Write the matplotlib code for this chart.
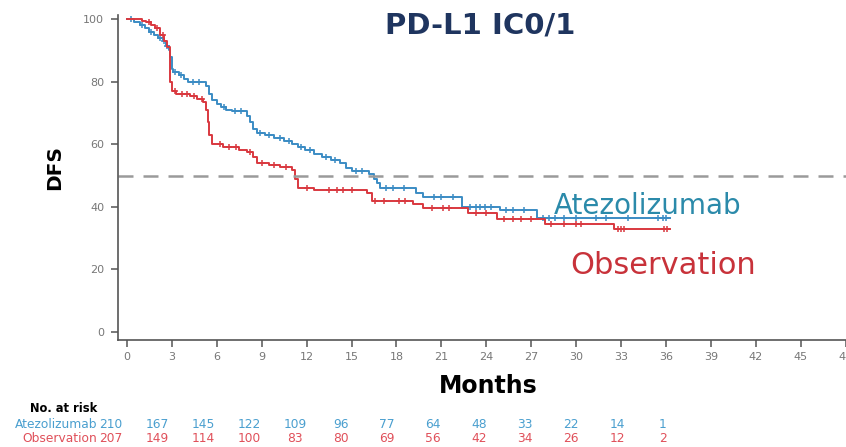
import numpy as np
import matplotlib
matplotlib.use("Agg")
import matplotlib.pyplot as plt

plt.rcParams['font.family'] = ['DejaVu Sans']

# Kaplan-Meier steps: month of each drop and DFS (%) after it
atezo_t = [0, 0.5, 0.9, 1.2, 1.5, 1.8, 2.1, 2.4, 2.6, 2.8, 2.9, 3.0, 3.1, 3.5, 3.8, 4.1,
           5.3, 5.5, 5.7, 6.0, 6.3, 6.6, 7.0, 8.0, 8.2, 8.4, 8.7, 9.2, 9.8, 10.5, 11.0,
           11.4, 11.9, 12.5, 13.0, 13.6, 14.2, 14.6, 15.0, 16.2, 16.5, 16.7, 16.9, 19.3,
           19.8, 22.4, 24.9, 27.4, 36.3]
atezo_s = [100, 99, 98, 97, 96, 95, 94, 93, 91.5, 90, 88, 84, 83, 82, 81, 80,
           78.5, 76, 74, 73, 72, 71, 70.5, 69, 67, 65, 63.6, 63, 62, 61, 60,
           59, 58, 57, 56, 55, 54, 52.5, 51.5, 50.5, 49, 47.5, 46, 44.5,
           43, 40, 39, 36.4, 36.4]
atezo_cens = [0.3, 1.0, 1.6, 2.2, 2.5, 2.7, 3.2, 3.6, 4.4, 4.8, 6.5, 7.2, 7.6, 8.9, 9.5,
              10.2, 10.8, 11.6, 12.2, 13.3, 13.9, 15.3, 15.7, 17.3, 17.8, 18.5, 20.5,
              21.0, 21.8, 22.9, 23.3, 23.6, 23.9, 24.3, 25.3, 25.8, 26.5, 27.8, 28.2,
              28.6, 29.2, 30.0, 31.3, 32.0, 33.5, 35.5, 35.8, 36.0]

obs_t = [0, 1.0, 1.3, 1.6, 1.9, 2.2, 2.5, 2.7, 2.85, 2.9, 3.0, 3.3, 4.2, 4.7, 5.1, 5.3,
         5.4, 5.5, 5.7, 6.4, 7.5, 8.0, 8.4, 8.7, 9.5, 10.2, 11.0, 11.2, 11.4, 12.5,
         16.0, 16.4, 19.1, 19.8, 22.8, 24.7, 27.9, 32.5, 36.3]
obs_s = [100, 99.5, 99, 98, 97, 95, 93, 91, 88, 80, 77, 76, 75.5, 74.5, 73.5, 71,
         67, 63, 60, 59, 58, 57.5, 56, 54, 53.5, 52.7, 51.8, 49, 46, 45.5,
         44.4, 42, 41, 39.6, 38, 36, 34.5, 33, 33]
obs_cens = [1.5, 2.0, 2.4, 3.2, 3.7, 4.0, 4.5, 5.0, 6.2, 6.8, 7.3, 8.2, 9.0, 9.8, 10.6,
            12.0, 13.5, 14.0, 14.4, 15.0, 16.6, 17.2, 18.2, 18.6, 20.4, 21.1, 21.5,
            23.3, 24.0, 25.2, 25.8, 26.3, 27.0, 28.3, 29.2, 30.0, 30.3, 32.8, 33.0,
            33.2, 35.9, 36.1]

risk_months = [0, 3, 6, 9, 12, 15, 18, 21, 24, 27, 30, 33, 36]
atezo_risk = [210, 167, 145, 122, 109, 96, 77, 64, 48, 33, 22, 14, 1]
obs_risk = [207, 149, 114, 100, 83, 80, 69, 56, 42, 34, 26, 12, 2]

blue = '#3b8cc4'
red = '#d9383f'
W, H = 846, 447

fig = plt.figure(figsize=(W / 100, H / 100), dpi=100)
ax = fig.add_axes([118 / W, 1 - 340 / H, 1 - 118 / W, (340 - 15) / H])


def km_at(ts, ss, x):
    i = np.searchsorted(ts, x, side='right') - 1
    return np.asarray(ss)[i]


for ts, ss, cens, col in [(atezo_t, atezo_s, atezo_cens, blue),
                          (obs_t, obs_s, obs_cens, red)]:
    ax.step(ts, ss, where='post', color=col, lw=1.4)
    ax.plot(cens, km_at(ts, ss, cens), '+', color=col, ms=5, mew=1.1, ls='none')

ax.axhline(50, color='#9a9a9a', lw=1.8, ls=(0, (6, 4)))

ax.set_xlim(-0.6, 48.03)
ax.set_ylim(-2.56, 101.3)
ax.set_xticks(np.arange(0, 49, 3))
ax.set_yticks([0, 20, 40, 60, 80, 100])
for s in ['top', 'right']:
    ax.spines[s].set_visible(False)
for s in ['left', 'bottom']:
    ax.spines[s].set_color('#555555')
    ax.spines[s].set_linewidth(1.2)
ax.tick_params(colors='#555555', labelsize=8, length=5, width=1.1, labelcolor='#777777')
ax.tick_params(axis='y', pad=5)

ax.text(28.5, 37.7, 'Atezolizumab', color='#2b8aaa', fontsize=20, va='baseline')
ax.text(29.6, 18.5, 'Observation', color='#c8323a', fontsize=22, va='baseline')

fig.text(480 / W, 1 - 26 / H, 'PD-L1 IC0/1', color='#1f355f', fontsize=21,
         fontweight='bold', ha='center', va='center')
fig.text(55 / W, 1 - 167 / H, 'DFS', fontsize=14.5, fontweight='bold',
         rotation=90, ha='center', va='center')
fig.text(488 / W, 1 - 386 / H, 'Months', fontsize=17, fontweight='bold',
         ha='center', va='center')

# number-at-risk table below the axis
risk_blue = '#4a9fcf'
risk_red = '#e0505a'
row_y = [1 - 425 / H, 1 - 439 / H]
fig.text(97 / W, 1 - 408 / H, 'No. at risk', fontsize=8.3, fontweight='bold',
         ha='right', va='center')
fig.text(97 / W, row_y[0], 'Atezolizumab', fontsize=8.8, color=risk_blue,
         ha='right', va='center')
fig.text(97 / W, row_y[1], 'Observation', fontsize=8.8, color=risk_red,
         ha='right', va='center')
for m, a, o in zip(risk_months, atezo_risk, obs_risk):
    xp = (111 + m * 46 / 3) / W
    fig.text(xp, row_y[0], str(a), fontsize=8.8, color=risk_blue,
             ha='center', va='center')
    fig.text(xp, row_y[1], str(o), fontsize=8.8, color=risk_red,
             ha='center', va='center')

fig.savefig('out.png', dpi=100)
